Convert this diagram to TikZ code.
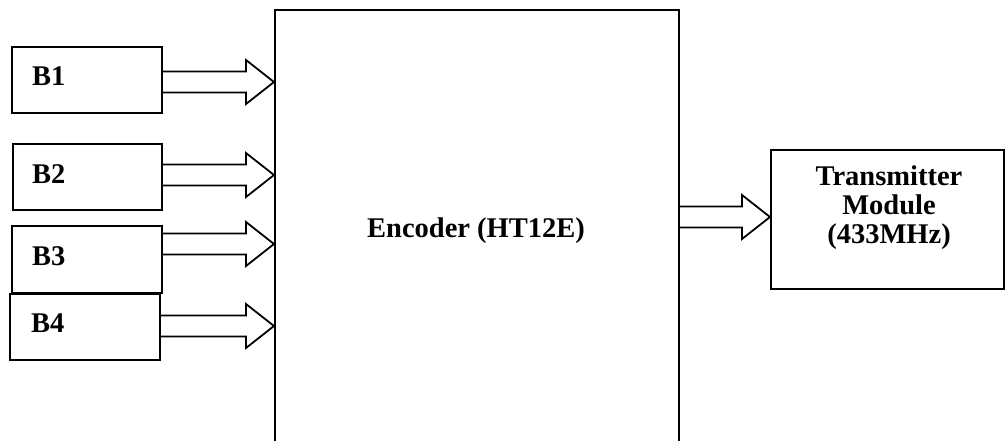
\documentclass[tikz,border=0pt]{standalone}
\usepackage{fontspec}
\setmainfont{Liberation Serif}
\usetikzlibrary{calc}
\tikzset{
  blk/.style={draw, line width=1.9pt, rectangle, inner sep=0pt, anchor=north west},
  lbl/.style={font=\fontsize{28.5}{29}\selectfont\bfseries, inner sep=0pt},
  blockarrow/.style={line width=1.8pt, line join=miter, to path={
    ($(\tikztostart |- \tikztotarget)+(0,-10.5)$) --
    ($(\tikztotarget)+(-28,-10.5)$) --
    ($(\tikztotarget)+(-28,-22)$) --
    (\tikztotarget) --
    ($(\tikztotarget)+(-28,22)$) --
    ($(\tikztotarget)+(-28,10.5)$) --
    ($(\tikztostart |- \tikztotarget)+(0,10.5)$)
  }}
}
\begin{document}
\begin{tikzpicture}[x=1pt,y=-1pt]
\path[use as bounding box, clip] (0,0) rectangle (1005,440);
% boxes
\node[blk, minimum width=150pt, minimum height=66pt] (b1) at (11,46) {};
\node[blk, minimum width=149pt, minimum height=66pt] (b2) at (12,143) {};
\node[blk, minimum width=150pt, minimum height=67pt] (b3) at (11,225) {};
\node[blk, minimum width=150pt, minimum height=66pt] (b4) at (9,293) {};
\node[blk, minimum width=404pt, minimum height=451pt] (enc) at (274,9) {};
\node[blk, minimum width=233pt, minimum height=139pt] (tx) at (770,149) {};
% labels
\node[lbl, anchor=base west] (b1t) at (32,85) {B1};
\node[lbl, anchor=base west] (b2t) at (32,183) {B2};
\node[lbl, anchor=base west] (b3t) at (32,265) {B3};
\node[lbl, anchor=base west] (b4t) at (31,332) {B4};
\node[lbl, anchor=base] (enct) at (476,237) {Encoder (HT12E)};
\node[lbl, align=center, anchor=center] (txt) at (889,208) {Transmitter\\Module\\(433MHz)};
% arrow tips
\coordinate (t1) at (enc.west |- 0,82);
\coordinate (t2) at (enc.west |- 0,175);
\coordinate (t3) at (enc.west |- 0,244);
\coordinate (t4) at (enc.west |- 0,326);
\coordinate (t5) at (tx.west |- 0,217);
% arrows
\draw[blockarrow] (b1.east) to (t1);
\draw[blockarrow] (b2.east) to (t2);
\draw[blockarrow] (b3.east) to (t3);
\draw[blockarrow] (b4.east) to (t4);
\draw[blockarrow] (enc.east) to (t5);
\end{tikzpicture}
\end{document}
